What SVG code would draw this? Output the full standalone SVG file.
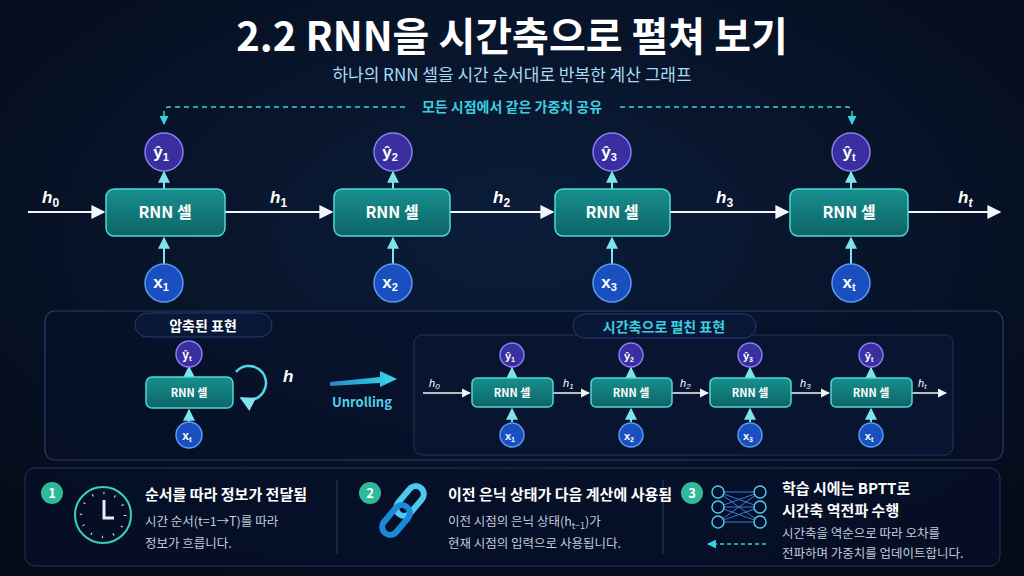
<svg xmlns="http://www.w3.org/2000/svg" width="1024" height="576" viewBox="0 0 1024 576">
<defs>
<radialGradient id="bg" cx="50%" cy="40%" r="75%"><stop offset="0" stop-color="#0b1d3a"/><stop offset="1" stop-color="#040a18"/></radialGradient>
<linearGradient id="cell" x1="0" y1="0" x2="0" y2="1"><stop offset="0" stop-color="#17908e"/><stop offset="1" stop-color="#0d6467"/></linearGradient>
<linearGradient id="unr" x1="0" y1="0" x2="1" y2="0"><stop offset="0" stop-color="#1f8fc0"/><stop offset="1" stop-color="#38d6f0"/></linearGradient>
<marker id="aw" viewBox="0 0 10 10" refX="9" refY="5" markerWidth="7" markerHeight="7" orient="auto"><path d="M0,0L10,5L0,10z" fill="#f2f6fa"/></marker>
<marker id="ac" viewBox="0 0 10 10" refX="9" refY="5" markerWidth="6" markerHeight="6" orient="auto"><path d="M0,0L10,5L0,10z" fill="#7fe3ee"/></marker>
<marker id="ad" viewBox="0 0 10 10" refX="9" refY="5" markerWidth="6" markerHeight="6" orient="auto"><path d="M0,0L10,5L0,10z" fill="#3ccfe0"/></marker>
</defs>
<style>
text{font-family:"Noto Sans CJK KR","Noto Sans",sans-serif;}
.cell{fill:url(#cell);stroke:#4fd8d8;stroke-width:1.5}
.ct{fill:#fff;font-weight:700;font-size:16px;text-anchor:middle}
.cts{fill:#fff;font-weight:700;font-size:11px;text-anchor:middle}
.yc{fill:#3a2fa0;stroke:#8a7ff0;stroke-width:1.5}
.xc{fill:#1a4fc0;stroke:#5a9af0;stroke-width:1.5}
.ci{fill:#fff;font-weight:700;text-anchor:middle;font-family:"Liberation Sans",sans-serif}
.h{fill:#fff;font-weight:700;font-style:italic;font-size:17px;font-family:"Liberation Sans",sans-serif}
.hs{fill:#fff;font-style:italic;font-size:11px;font-family:"Liberation Sans",sans-serif}
.ln{stroke:#f2f6fa;stroke-width:2;fill:none}
.up{stroke:#7fe3ee;stroke-width:2;fill:none}
.t1{fill:#fff;font-weight:700;font-size:15px}
.t2{fill:#c4ccd8;font-size:12.5px}
.badge{fill:#2fb89a}
</style>
<rect width="1024" height="576" fill="url(#bg)"/>
<text x="512" y="51" fill="#fff" font-size="40" font-weight="700" text-anchor="middle">2.2 RNN을 시간축으로 펼쳐 보기</text>
<text x="512" y="81" fill="#a9dcf2" font-size="17" text-anchor="middle">하나의 RNN 셀을 시간 순서대로 반복한 계산 그래프</text>

<g id="connectors">
<path d="M620,107H847Q852,107 852,112V124" stroke="#3ccfe0" stroke-width="1.5" stroke-dasharray="5,4" fill="none" marker-end="url(#ad)"/>
<path d="M405,107H169Q164,107 164,112V124" stroke="#3ccfe0" stroke-width="1.5" stroke-dasharray="5,4" fill="none" marker-end="url(#ad)"/>
<line x1="28" y1="212" x2="104" y2="212" class="ln" marker-end="url(#aw)"/>
<line x1="225" y1="212" x2="332" y2="212" class="ln" marker-end="url(#aw)"/>
<line x1="450" y1="212" x2="553" y2="212" class="ln" marker-end="url(#aw)"/>
<line x1="670" y1="212" x2="788" y2="212" class="ln" marker-end="url(#aw)"/>
<line x1="908" y1="212" x2="1000" y2="212" class="ln" marker-end="url(#aw)"/>
<g class="up">
<line x1="164" y1="189" x2="164" y2="172" marker-end="url(#ac)"/><line x1="164" y1="264" x2="164" y2="238" marker-end="url(#ac)"/>
<line x1="393" y1="189" x2="393" y2="172" marker-end="url(#ac)"/><line x1="393" y1="264" x2="393" y2="238" marker-end="url(#ac)"/>
<line x1="612" y1="189" x2="612" y2="172" marker-end="url(#ac)"/><line x1="612" y1="264" x2="612" y2="238" marker-end="url(#ac)"/>
<line x1="851" y1="189" x2="851" y2="172" marker-end="url(#ac)"/><line x1="851" y1="264" x2="851" y2="238" marker-end="url(#ac)"/>
</g>
</g>
<text x="512" y="112" fill="#3ccfe0" font-size="14" font-weight="700" text-anchor="middle">모든 시점에서 같은 가중치 공유</text>
<text x="42" y="203" class="h">h<tspan font-size="12" dy="4" font-style="normal">0</tspan></text>
<text x="270" y="203" class="h">h<tspan font-size="12" dy="4" font-style="normal">1</tspan></text>
<text x="493" y="203" class="h">h<tspan font-size="12" dy="4" font-style="normal">2</tspan></text>
<text x="716" y="203" class="h">h<tspan font-size="12" dy="4" font-style="normal">3</tspan></text>
<text x="958" y="203" class="h">h<tspan font-size="12" dy="4">t</tspan></text>

<g id="cell1"><rect x="106" y="189" width="119" height="47" rx="8" class="cell"/><text x="165" y="218" class="ct">RNN 셀</text></g>
<g id="cell2"><rect x="334" y="189" width="116" height="47" rx="8" class="cell"/><text x="392" y="218" class="ct">RNN 셀</text></g>
<g id="cell3"><rect x="555" y="189" width="115" height="47" rx="8" class="cell"/><text x="612" y="218" class="ct">RNN 셀</text></g>
<g id="cell4"><rect x="790" y="189" width="118" height="47" rx="8" class="cell"/><text x="849" y="218" class="ct">RNN 셀</text></g>

<g id="y1"><circle cx="164" cy="152" r="19" class="yc"/><text x="161" y="158" class="ci" font-size="17">ŷ<tspan font-size="11" dy="3">1</tspan></text></g>
<g id="y2"><circle cx="393" cy="152" r="19" class="yc"/><text x="390" y="158" class="ci" font-size="17">ŷ<tspan font-size="11" dy="3">2</tspan></text></g>
<g id="y3"><circle cx="612" cy="152" r="19" class="yc"/><text x="609" y="158" class="ci" font-size="17">ŷ<tspan font-size="11" dy="3">3</tspan></text></g>
<g id="yt"><circle cx="851" cy="152" r="19" class="yc"/><text x="849" y="158" class="ci" font-size="17">ŷ<tspan font-size="11" dy="3">t</tspan></text></g>
<g id="x1"><circle cx="164" cy="283" r="19" class="xc"/><text x="161" y="288" class="ci" font-size="17">x<tspan font-size="11" dy="3">1</tspan></text></g>
<g id="x2"><circle cx="393" cy="283" r="19" class="xc"/><text x="390" y="288" class="ci" font-size="17">x<tspan font-size="11" dy="3">2</tspan></text></g>
<g id="x3"><circle cx="612" cy="283" r="19" class="xc"/><text x="609" y="288" class="ci" font-size="17">x<tspan font-size="11" dy="3">3</tspan></text></g>
<g id="xt"><circle cx="851" cy="283" r="19" class="xc"/><text x="849" y="288" class="ci" font-size="17">x<tspan font-size="11" dy="3">t</tspan></text></g>

<g id="middle-panel">
<rect x="45" y="311" width="958" height="149" rx="10" fill="#06102a" fill-opacity="0.6" stroke="#2a3c66" stroke-width="1.2"/>
<rect x="135" y="313" width="137" height="24" rx="12" fill="#0a1838" stroke="#243a70"/>
<text x="203" y="331" fill="#fff" font-size="14" font-weight="700" text-anchor="middle">압축된 표현</text>
<line x1="189" y1="377" x2="189" y2="367" class="up" stroke-width="1.5" marker-end="url(#ac)"/>
<line x1="189" y1="423" x2="189" y2="410" class="up" stroke-width="1.5" marker-end="url(#ac)"/>
<rect x="146" y="377" width="87" height="31" rx="6" class="cell"/><text x="189" y="397" class="cts" font-size="13">RNN 셀</text>
<circle cx="189" cy="354" r="13" class="yc"/><text x="187" y="359" class="ci" font-size="12">ŷ<tspan font-size="8" dy="2">t</tspan></text>
<circle cx="189" cy="435" r="13" class="xc"/><text x="187" y="440" class="ci" font-size="12">x<tspan font-size="8" dy="2">t</tspan></text>
<path d="M236,372A17,17 0 1 1 241,398" stroke="#4fd8e8" stroke-width="2.5" fill="none" marker-end="url(#ac)"/>
<text x="283" y="382" class="h" font-size="16">h</text>
<path d="M330,382L380,377L380,371L397,379L380,387L380,383L330,386z" fill="url(#unr)"/>
<text x="362" y="407" fill="#52d0e8" font-size="13" font-weight="700" text-anchor="middle" font-family="Liberation Sans,sans-serif">Unrolling</text>

<rect x="414" y="335" width="539" height="120" rx="8" fill="#081430" stroke="#22355e"/>
<rect x="573" y="314" width="183" height="24" rx="12" fill="#0a1838" stroke="#243a70"/>
<text x="664" y="332" fill="#3ccfe0" font-size="14" font-weight="700" text-anchor="middle">시간축으로 펼친 표현</text>
<g stroke="#f2f6fa" stroke-width="1.3" fill="none">
<line x1="423" y1="393" x2="470" y2="393" marker-end="url(#aw)"/>
<line x1="553" y1="393" x2="589" y2="393" marker-end="url(#aw)"/>
<line x1="672" y1="393" x2="708" y2="393" marker-end="url(#aw)"/>
<line x1="791" y1="393" x2="829" y2="393" marker-end="url(#aw)"/>
<line x1="912" y1="393" x2="946" y2="393" marker-end="url(#aw)"/>
</g>
<text x="429" y="387" class="hs">h<tspan font-size="8" dy="2">0</tspan></text>
<text x="563" y="387" class="hs">h<tspan font-size="8" dy="2">1</tspan></text>
<text x="680" y="387" class="hs">h<tspan font-size="8" dy="2">2</tspan></text>
<text x="800" y="387" class="hs">h<tspan font-size="8" dy="2">3</tspan></text>
<text x="918" y="387" class="hs">h<tspan font-size="8" dy="2">t</tspan></text>
<g class="up" stroke-width="1.5">
<line x1="512" y1="378" x2="512" y2="368" marker-end="url(#ac)"/><line x1="512" y1="422" x2="512" y2="409" marker-end="url(#ac)"/>
<line x1="631" y1="378" x2="631" y2="368" marker-end="url(#ac)"/><line x1="631" y1="422" x2="631" y2="409" marker-end="url(#ac)"/>
<line x1="750" y1="378" x2="750" y2="368" marker-end="url(#ac)"/><line x1="750" y1="422" x2="750" y2="409" marker-end="url(#ac)"/>
<line x1="871" y1="378" x2="871" y2="368" marker-end="url(#ac)"/><line x1="871" y1="422" x2="871" y2="409" marker-end="url(#ac)"/>
</g>
<rect x="472" y="378" width="81" height="29" rx="5" class="cell"/><text x="512" y="397" class="cts">RNN 셀</text>
<rect x="591" y="378" width="81" height="29" rx="5" class="cell"/><text x="631" y="397" class="cts">RNN 셀</text>
<rect x="710" y="378" width="81" height="29" rx="5" class="cell"/><text x="750" y="397" class="cts">RNN 셀</text>
<rect x="831" y="378" width="81" height="29" rx="5" class="cell"/><text x="871" y="397" class="cts">RNN 셀</text>
<circle cx="512" cy="355" r="12" class="yc"/><text x="510" y="360" class="ci" font-size="11">ŷ<tspan font-size="7" dy="2">1</tspan></text>
<circle cx="631" cy="355" r="12" class="yc"/><text x="629" y="360" class="ci" font-size="11">ŷ<tspan font-size="7" dy="2">2</tspan></text>
<circle cx="750" cy="355" r="12" class="yc"/><text x="748" y="360" class="ci" font-size="11">ŷ<tspan font-size="7" dy="2">3</tspan></text>
<circle cx="871" cy="355" r="12" class="yc"/><text x="869" y="360" class="ci" font-size="11">ŷ<tspan font-size="7" dy="2">t</tspan></text>
<circle cx="512" cy="435" r="12" class="xc"/><text x="510" y="440" class="ci" font-size="11">x<tspan font-size="7" dy="2">1</tspan></text>
<circle cx="631" cy="435" r="12" class="xc"/><text x="629" y="440" class="ci" font-size="11">x<tspan font-size="7" dy="2">2</tspan></text>
<circle cx="750" cy="435" r="12" class="xc"/><text x="748" y="440" class="ci" font-size="11">x<tspan font-size="7" dy="2">3</tspan></text>
<circle cx="871" cy="435" r="12" class="xc"/><text x="869" y="440" class="ci" font-size="11">x<tspan font-size="7" dy="2">t</tspan></text>
</g>

<g id="bottom-panel">
<rect x="25" y="468" width="975" height="98" rx="10" fill="#06102a" fill-opacity="0.7" stroke="#22355e"/>
<line x1="337" y1="480" x2="337" y2="554" stroke="#2a3a5c"/>
<line x1="663" y1="480" x2="663" y2="554" stroke="#2a3a5c"/>
<circle cx="52" cy="493" r="11" class="badge"/><text x="52" y="498" fill="#fff" font-size="13" font-weight="700" text-anchor="middle">1</text>
<circle cx="370" cy="493" r="11" class="badge"/><text x="370" y="498" fill="#fff" font-size="13" font-weight="700" text-anchor="middle">2</text>
<circle cx="692" cy="493" r="11" class="badge"/><text x="692" y="498" fill="#fff" font-size="13" font-weight="700" text-anchor="middle">3</text>
<circle cx="103" cy="515" r="28" fill="none" stroke="#3ad0c0" stroke-width="2"/>
<circle cx="103" cy="515" r="22" fill="none" stroke="#e8eef6" stroke-width="2.5" stroke-dasharray="1,10.5"/>
<path d="M104,500V518H114" stroke="#e8eef6" stroke-width="3" fill="none"/>
<text x="145" y="500" class="t1">순서를 따라 정보가 전달됨</text>
<text x="145" y="526" class="t2">시간 순서(t=1→T)를 따라</text>
<text x="145" y="548" class="t2">정보가 흐릅니다.</text>
<g fill="none" stroke-width="6" stroke-linecap="round">
<rect x="402" y="484" width="16" height="34" rx="8" transform="rotate(40 410 501)" stroke="#4fc8f0"/>
<rect x="388" y="503" width="16" height="34" rx="8" transform="rotate(40 396 520)" stroke="#1a8ad8"/>
</g>
<text x="448" y="500" class="t1">이전 은닉 상태가 다음 계산에 사용됨</text>
<text x="448" y="526" class="t2">이전 시점의 은닉 상태(h<tspan font-size="9" dy="3">t−1</tspan><tspan dy="-3">)가</tspan></text>
<text x="448" y="548" class="t2">현재 시점의 입력으로 사용됩니다.</text>
<g stroke="#3a7ad8" stroke-width="1">
<line x1="718" y1="492" x2="760" y2="492"/><line x1="718" y1="492" x2="760" y2="507"/><line x1="718" y1="492" x2="760" y2="522"/>
<line x1="718" y1="507" x2="760" y2="492"/><line x1="718" y1="507" x2="760" y2="507"/><line x1="718" y1="507" x2="760" y2="522"/>
<line x1="718" y1="522" x2="760" y2="492"/><line x1="718" y1="522" x2="760" y2="507"/><line x1="718" y1="522" x2="760" y2="522"/>
</g>
<g fill="#06102a" stroke="#4fc8e8" stroke-width="1.5">
<circle cx="718" cy="492" r="6"/><circle cx="718" cy="507" r="6"/><circle cx="718" cy="522" r="6"/>
<circle cx="760" cy="492" r="6"/><circle cx="760" cy="507" r="6"/><circle cx="760" cy="522" r="6"/>
</g>
<line x1="766" y1="544" x2="708" y2="544" stroke="#3ccfe0" stroke-width="1.5" stroke-dasharray="4,3" marker-end="url(#ad)"/>
<text x="782" y="494" class="t1">학습 시에는 BPTT로</text>
<text x="782" y="516" class="t1">시간축 역전파 수행</text>
<text x="782" y="538" class="t2">시간축을 역순으로 따라 오차를</text>
<text x="782" y="558" class="t2">전파하며 가중치를 업데이트합니다.</text>
</g>
</svg>
